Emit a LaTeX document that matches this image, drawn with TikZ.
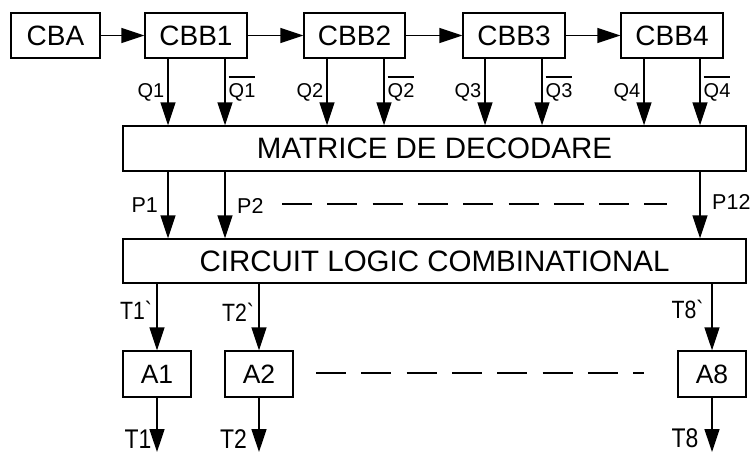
\documentclass[tikz,border=0pt]{standalone}
\usepackage{fontspec}
\setmainfont{Liberation Sans}
\newfontfamily\narrowsans[FakeStretch=0.85]{Liberation Sans}
\usetikzlibrary{arrows.meta}

% text with a bar over it (negated outputs)
\newcommand\barred[1]{\vbox{\hrule height 1.2pt\kern 6pt\hbox{#1}}}

\begin{document}
\begin{tikzpicture}[x=1pt,y=-1pt,
  blk/.style={draw, line width=1.4pt, inner sep=0pt, minimum height=45pt},
  cnt/.style={blk, minimum width=102pt, font=\fontsize{28}{28}\selectfont},
  wide/.style={blk, minimum width=623pt, font=\fontsize{29.5}{29.5}\selectfont},
  amp/.style={blk, minimum width=68pt, minimum height=46pt, font=\fontsize{26.5}{26.5}\selectfont},
  arr/.style={line width=1.4pt, -{Triangle[length=23pt,width=15pt]}},
  qlab/.style={inner sep=0pt, font=\fontsize{20}{20}\selectfont},
  plab/.style={inner sep=0pt, font=\fontsize{21.5}{21.5}\selectfont},
  tlab/.style={inner sep=0pt, font=\narrowsans\fontsize{25}{25}\selectfont},
  olab/.style={inner sep=0pt, font=\narrowsans\fontsize{27}{27}\selectfont},
  dsh/.style={line width=1.4pt, dash pattern=on 30pt off 15.3pt}]
\useasboundingbox (0,0) rectangle (751,453);

% counter chain
\node[cnt, minimum width=89pt] (cba) at (55.5,35.5) {CBA};
\node[cnt] (cbb1) at (196,35.5) {CBB1};
\node[cnt, minimum width=101pt] (cbb2) at (354.5,35.5) {CBB2};
\node[cnt] (cbb3) at (514,35.5) {CBB3};
\node[cnt] (cbb4) at (672,35.5) {CBB4};

\draw[arr] (cba) -- (cbb1);
\draw[arr] (cbb1) -- (cbb2);
\draw[arr] (cbb2) -- (cbb3);
\draw[arr] (cbb3) -- (cbb4);

% decoder and combinational logic
\node[wide] (mat) at (434.5,148.5) {MATRICE DE DECODARE};
\node[wide, minimum height=44pt] (clc) at (434.5,261) {CIRCUIT LOGIC COMBINATIONAL};

% Q and negated Q outputs into the decoder
\foreach \i/\xa/\xb in {1/168/225,2/327/384,3/485/542,4/644/700}{
  \coordinate (qa\i) at (\xa,0);
  \coordinate (qb\i) at (\xb,0);
  \draw[arr] (cbb\i.south -| qa\i) -- (mat.north -| qa\i);
  \draw[arr] (cbb\i.south -| qb\i) -- (mat.north -| qb\i);
  \node[qlab, anchor=base east] (lq\i) at (\xa-3.5,97.5) {Q\i};
  \node[qlab, anchor=base west] (lnq\i) at (\xb+3.5,97.5) {\barred{Q\i}};
}

% decoder outputs P
\coordinate (p1) at (168,0);
\coordinate (p2) at (225,0);
\coordinate (p12) at (700,0);
\draw[arr] (mat.south -| p1) -- (clc.north -| p1);
\draw[arr] (mat.south -| p2) -- (clc.north -| p2);
\draw[arr] (mat.south -| p12) -- (clc.north -| p12);
\node[plab, anchor=base east] (lp1) at (158,212.7) {P1};
\node[plab, anchor=base west] (lp2) at (237,213) {P2};
\node[plab, anchor=base west] (lp12) at (712,209) {P12};
\coordinate (pd1) at (282,204);
\coordinate (pd2) at (667,204);
\draw[dsh] (pd1) -- (pd2);

% amplifiers
\node[amp] (a1) at (157,374) {A1};
\node[amp] (a2) at (259,374) {A2};
\node[amp] (a8) at (712,374) {A8};

\draw[arr] (clc.south -| a1) -- (a1.north);
\draw[arr] (clc.south -| a2) -- (a2.north);
\draw[arr] (clc.south -| a8) -- (a8.north);
\node[tlab, anchor=base east] (lt1) at (153.5,319.5) {T1\textasciigrave};
\node[tlab, anchor=base east] (lt2) at (255.5,321) {T2\textasciigrave};
\node[tlab, anchor=base east] (lt8) at (705,318.5) {T8\textasciigrave};

\coordinate (ad1) at (316,373);
\coordinate (ad2) at (644,373);
\draw[dsh] (ad1) -- (ad2);

% final outputs
\coordinate (o1) at (157,452);
\coordinate (o2) at (259,452);
\coordinate (o8) at (712,452);
\draw[arr] (a1.south) -- (o1);
\draw[arr] (a2.south) -- (o2);
\draw[arr] (a8.south) -- (o8);
\node[olab, anchor=base east] (lo1) at (151.5,448.5) {T1};
\node[olab, anchor=base east] (lo2) at (247,448.5) {T2};
\node[olab, anchor=base east] (lo8) at (698.5,447.5) {T8};
\end{tikzpicture}
\end{document}
